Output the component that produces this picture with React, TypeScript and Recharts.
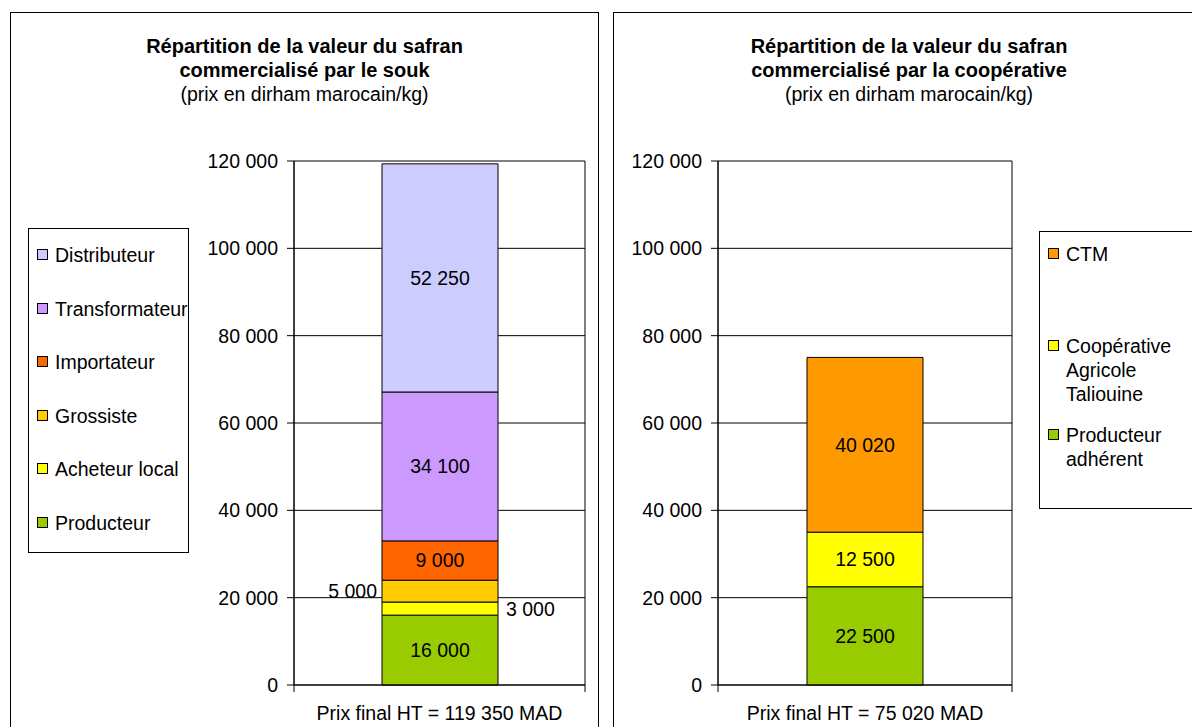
import React from 'react';
import { Bar, BarChart, CartesianGrid, LabelList, XAxis, YAxis } from 'recharts';

// Souk channel, bottom to top of the stack
const soukSeries = ['Producteur', 'Acheteur local', 'Grossiste', 'Importateur', 'Transformateur', 'Distributeur'];
const soukValues = [16000, 3000, 5000, 9000, 34100, 52250];

// Cooperative channel, bottom to top
const coopSeries = ['Producteur adhérent', 'Coopérative Agricole Taliouine', 'CTM'];
const coopValues = [22500, 12500, 40020];

const yTicks = [0, 20000, 40000, 60000, 80000, 100000, 120000];

const soukColors = ['#99CC00', '#FFFF00', '#FFCC00', '#FF6600', '#CC99FF', '#CCCCFF'];
const coopColors = ['#99CC00', '#FFFF00', '#FF9900'];
type LabelPos = 'center' | 'left' | 'right';
const soukLabelPos: LabelPos[] = ['center', 'right', 'left', 'center', 'center', 'center'];
const coopLabelPos: LabelPos[] = ['center', 'center', 'center'];

const FONT = '"Liberation Sans", Arial, sans-serif';
const TXT = 19.5;
const Y_AXIS_W = 90;

// "119 350" style thousands grouping
function fmt(v: number): string {
  return String(Math.round(v)).replace(/\B(?=(\d{3})+(?!\d))/g, ' ');
}

// Category label plus the little tick marks at both ends of the category band
function CategoryTick({ x, y, payload, band }: any) {
  return (
    <g>
      <line x1={x - band / 2} x2={x - band / 2} y1={y} y2={y + 7} stroke="#000" />
      <line x1={x + band / 2} x2={x + band / 2} y1={y} y2={y + 7} stroke="#000" />
      <text x={x} y={y + 28} textAnchor="middle" dominantBaseline="central" fontSize={TXT} fill="#000">
        {payload.value}
      </text>
    </g>
  );
}

interface StackProps {
  series: string[];
  values: number[];
  colors: string[];
  labelPos: LabelPos[];
  left: number;
  width: number;
  marginLeft: number;
  marginRight: number;
}

function StackChart({ series, values, colors, labelPos, left, width, marginLeft, marginRight }: StackProps) {
  const total = values.reduce((a, b) => a + b, 0);
  const row: Record<string, string | number> = { cat: `Prix final HT = ${fmt(total)} MAD` };
  series.forEach((s, i) => {
    row[`s${i}`] = values[i];
  });
  const band = width - marginLeft - marginRight - Y_AXIS_W;

  return (
    <div style={{ position: 'absolute', left, top: 12 }}>
      <BarChart
        width={width}
        height={715}
        data={[row]}
        margin={{ top: 149, right: marginRight, bottom: 0, left: marginLeft }}
        style={{ fontFamily: FONT }}
      >
        <CartesianGrid
          stroke="#000"
          vertical
          verticalCoordinatesGenerator={({ offset }: any) => [offset.left, offset.left + offset.width]}
        />
        <XAxis
          dataKey="cat"
          height={42}
          interval={0}
          tickLine={false}
          tickSize={0}
          tickMargin={0}
          axisLine={{ stroke: '#000' }}
          tick={<CategoryTick band={band} />}
        />
        <YAxis
          width={Y_AXIS_W}
          domain={[0, 120000]}
          ticks={yTicks}
          tickFormatter={fmt}
          tickSize={7}
          tickMargin={9}
          axisLine={{ stroke: '#000' }}
          tickLine={{ stroke: '#000' }}
          tick={{ fontSize: TXT, fill: '#000' }}
        />
        {series.map((s, i) => (
          <Bar
            key={s}
            dataKey={`s${i}`}
            name={s}
            stackId="a"
            fill={colors[i]}
            stroke="#000"
            strokeWidth={1}
            barSize={116}
            isAnimationActive={false}
          >
            <LabelList
              dataKey={`s${i}`}
              position={labelPos[i]}
              offset={labelPos[i] === 'right' ? 8 : 5}
              formatter={(v: any) => fmt(Number(v))}
              fill="#000"
              stroke="none"
              fontSize={TXT}
            />
          </Bar>
        ))}
      </BarChart>
    </div>
  );
}

function Title({ lines, sub }: { lines: string[]; sub: string }) {
  return (
    <div
      style={{
        position: 'absolute',
        left: 0,
        right: 0,
        top: 21,
        textAlign: 'center',
        lineHeight: '24px',
        color: '#000',
      }}
    >
      {lines.map((l) => (
        <div key={l} style={{ fontWeight: 'bold', fontSize: 20 }}>{l}</div>
      ))}
      <div style={{ fontSize: TXT }}>{sub}</div>
    </div>
  );
}

interface LegendBoxProps {
  series: string[];
  colors: string[];
  left: number;
  top: number;
  width: number;
  height: number;
  rowTops: number[];
  textWidth: number;
}

// Legend lists the top of the stack first
function LegendBox({ series, colors, left, top, width, height, rowTops, textWidth }: LegendBoxProps) {
  const order = series.map((_, i) => i).reverse();
  return (
    <div
      style={{
        position: 'absolute',
        left,
        top,
        width,
        height,
        border: '1px solid #000',
        background: '#fff',
      }}
    >
      {order.map((idx, k) => (
        <div key={series[idx]} style={{ position: 'absolute', left: 8, top: rowTops[k] }}>
          <div
            style={{
              position: 'absolute',
              left: 0,
              top: 6,
              width: 9,
              height: 9,
              border: '1px solid #000',
              background: colors[idx],
            }}
          />
          <div
            style={{
              position: 'absolute',
              left: 18,
              top: 0,
              width: textWidth,
              fontSize: TXT,
              lineHeight: '24px',
              whiteSpace: textWidth > 200 ? 'nowrap' : 'normal',
              color: '#000',
            }}
          >
            {series[idx]}
          </div>
        </div>
      ))}
    </div>
  );
}

export default function App() {
  return (
    <div
      style={{
        position: 'absolute',
        left: 0,
        top: 0,
        width: 1192,
        height: 727,
        overflow: 'hidden',
        background: '#fff',
        fontFamily: FONT,
      }}
    >
      <div style={{ position: 'absolute', left: 10, top: 12, width: 587, height: 740, border: '1px solid #000' }}>
        <Title lines={['Répartition de la valeur du safran', 'commercialisé par le souk']} sub="(prix en dirham marocain/kg)" />
      </div>
      <div style={{ position: 'absolute', left: 613, top: 12, width: 590, height: 740, border: '1px solid #000' }}>
        <Title lines={['Répartition de la valeur du safran', 'commercialisé par la coopérative']} sub="(prix en dirham marocain/kg)" />
      </div>

      <StackChart
        series={soukSeries}
        values={soukValues}
        colors={soukColors}
        labelPos={soukLabelPos}
        left={10}
        width={588}
        marginLeft={194}
        marginRight={13}
      />
      <StackChart
        series={coopSeries}
        values={coopValues}
        colors={coopColors}
        labelPos={coopLabelPos}
        left={613}
        width={420}
        marginLeft={15}
        marginRight={21}
      />

      <LegendBox
        series={soukSeries}
        colors={soukColors}
        left={28}
        top={228}
        width={159}
        height={323}
        rowTops={[14, 68, 121, 175, 228, 282]}
        textWidth={300}
      />
      <LegendBox
        series={coopSeries}
        colors={coopColors}
        left={1039}
        top={231}
        width={200}
        height={276}
        rowTops={[10, 102, 191]}
        textWidth={125}
      />
    </div>
  );
}
